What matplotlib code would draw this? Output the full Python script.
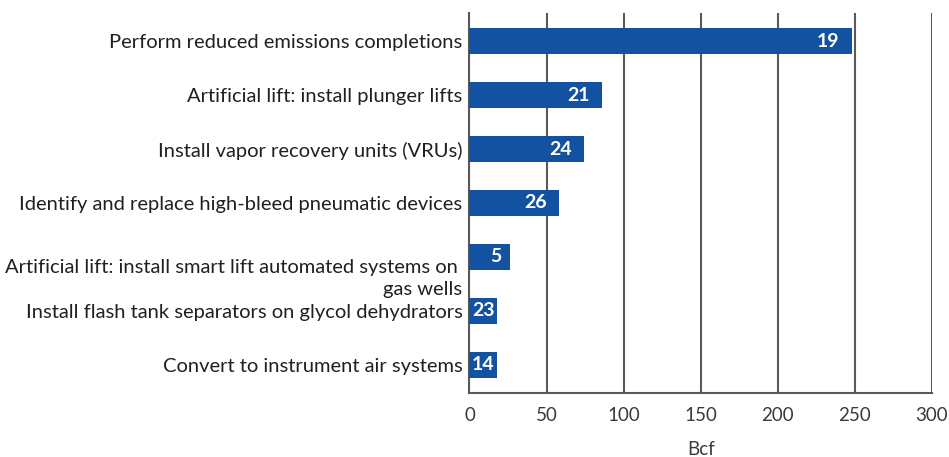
import matplotlib
matplotlib.use("Agg")
import matplotlib.pyplot as plt
import matplotlib.transforms as mtransforms

# data (top to bottom)
practices = [
    "Perform reduced emissions completions",
    "Artificial lift: install plunger lifts",
    "Install vapor recovery units (VRUs)",
    "Identify and replace high-bleed pneumatic devices",
    "Artificial lift: install smart lift automated systems on \ngas wells",
    "Install flash tank separators on glycol dehydrators",
    "Convert to instrument air systems",
]
bcf = [248, 86, 74, 58, 26, 18, 18]
counts = [19, 21, 24, 26, 5, 23, 14]

x_ticks = [0, 50, 100, 150, 200, 250, 300]

bar_color = "#1352a0"
text_color = "#231f20"
grid_color = "#5a5a5a"

plt.rcParams["font.family"] = ["Lato", "DejaVu Sans"]

fig = plt.figure(figsize=(9.49, 4.57), dpi=100)
ax = fig.add_axes([0.4947, 0.14, 0.982 - 0.4947, 0.9716 - 0.14])

ypos = list(range(len(practices)))[::-1]
ax.barh(ypos, bcf, height=0.47, color=bar_color, zorder=3)

for y, v, c in zip(ypos, bcf, counts):
    if v < 20:
        ax.text(v / 2, y, str(c), ha="center", va="center", color="white",
                fontsize=14, fontweight="bold", zorder=4)
    else:
        pad = -12 if v > 50 else -8
        off = mtransforms.offset_copy(ax.transData, fig=fig, x=pad, y=0, units="dots")
        ax.text(v, y, str(c), ha="right", va="center", color="white",
                fontsize=14, fontweight="bold", transform=off, zorder=4)

ax.set_xlim(0, 300)
ax.set_ylim(-0.52, 6.52)
ax.set_xticks(x_ticks)
ax.set_yticks(ypos)
ax.set_yticklabels(practices)
ax.tick_params(axis="y", length=0, pad=5, labelsize=14.5, labelcolor=text_color)
ax.tick_params(axis="x", length=0, pad=10, labelsize=13.5, labelcolor="#3a3a3a")

# two-line label sits a little lower than its bar
lbl = ax.get_yticklabels()[4]
lbl.set_linespacing(1.35)
lbl.set_transform(lbl.get_transform() + mtransforms.ScaledTranslation(0, -18 / 100, fig.dpi_scale_trans))

ax.grid(axis="x", color=grid_color, linewidth=1.5, zorder=1)
for side in ["top", "right"]:
    ax.spines[side].set_visible(False)
for side in ["left", "bottom"]:
    ax.spines[side].set_color(grid_color)
    ax.spines[side].set_linewidth(1.5)

ax.set_xlabel("Bcf", fontsize=13.5, color="#3a3a3a", labelpad=12)

fig.savefig("out.png", dpi=100)
